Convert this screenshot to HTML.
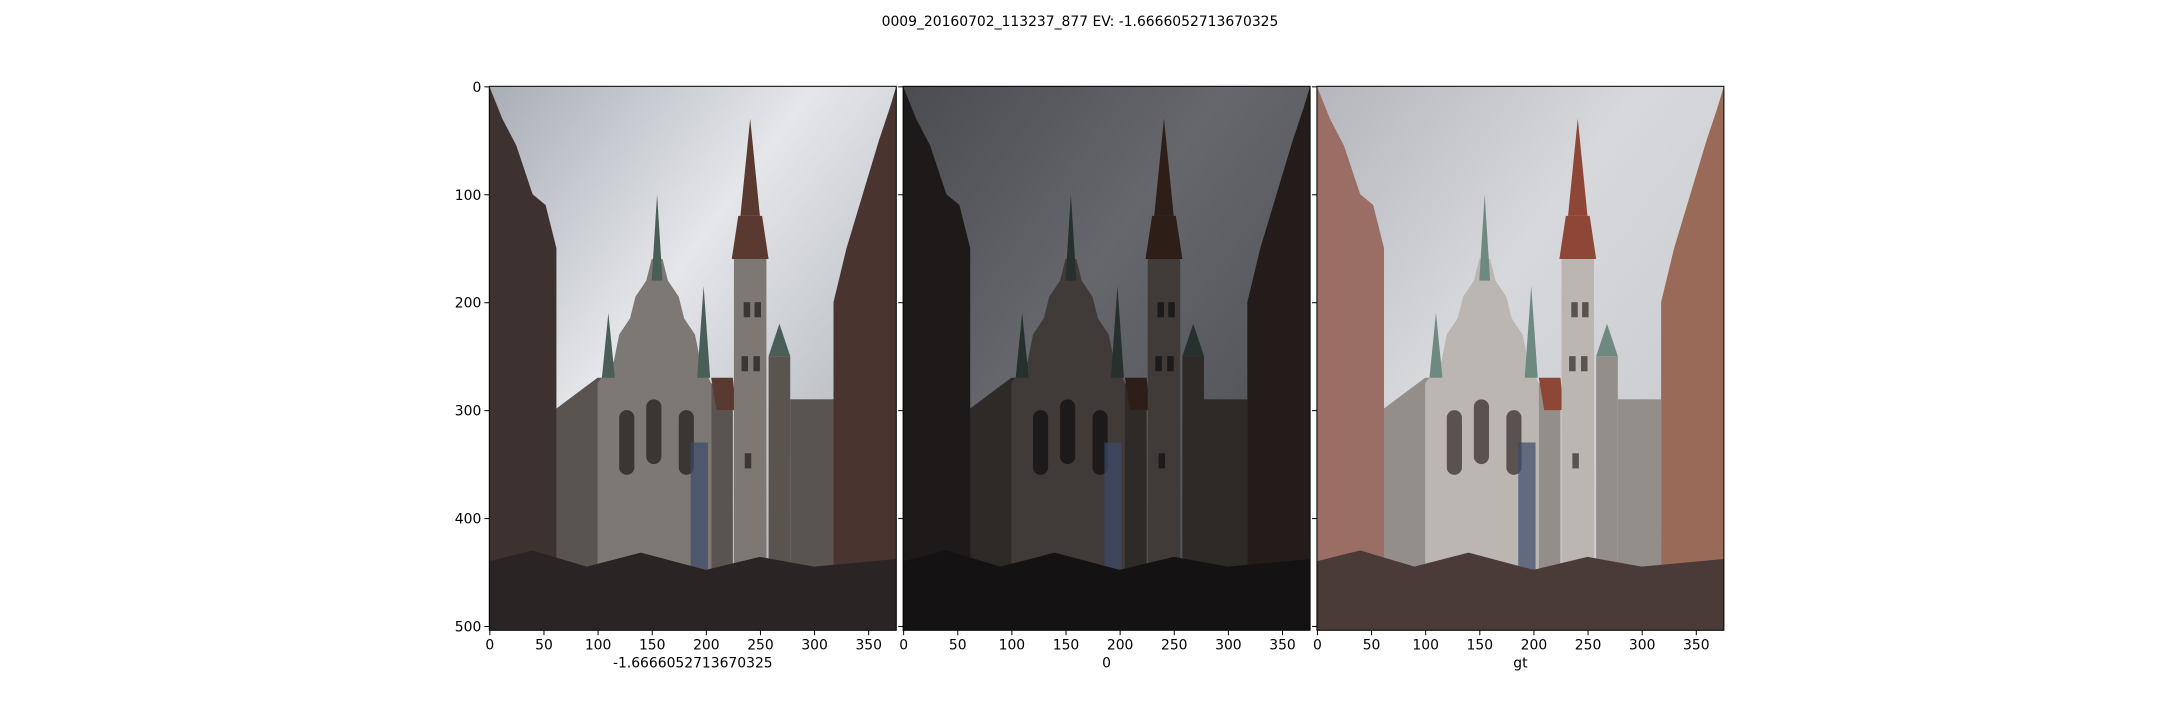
<!DOCTYPE html>
<html><head><meta charset="utf-8">
<style>
html,body{margin:0;padding:0;background:#fff;}
body{width:2160px;height:720px;overflow:hidden;font-family:"Liberation Sans","DejaVu Sans",sans-serif;}
svg text{font-family:"DejaVu Sans","Liberation Sans",sans-serif;font-size:13.9px;fill:#000;}
</style></head>
<body>
<svg id="fig" width="2160" height="720" viewBox="0 0 2160 720" xmlns="http://www.w3.org/2000/svg">
<text x="1080" y="26" text-anchor="middle">0009_20160702_113237_877 EV: -1.6666052713670325</text>
</svg>
<script>
const panelLabels = ["-1.6666052713670325", "0", "gt"];
const xTicks = [0, 50, 100, 150, 200, 250, 300, 350];
const yTicks = [0, 100, 200, 300, 400, 500];
const imgW = 376, imgH = 504;
const palettes = [
 {skyTop:"#a9adb5",skyMid:"#e4e6ea",skyBot:"#9da1a8",bld:"#7e7874",bldD:"#5a5450",leftB:"#3e3230",rightB:"#4a3430",crowd:"#2a2424",spire:"#5a3a30",win:"#3a3634",green:"#4a5e58"},
 {skyTop:"#4a4c52",skyMid:"#65676c",skyBot:"#48494e",bld:"#403b38",bldD:"#2e2a28",leftB:"#1e1a1a",rightB:"#241c1a",crowd:"#141212",spire:"#2e1e18",win:"#1c1a1a",green:"#26302c"},
 {skyTop:"#b4b6bc",skyMid:"#d6d8dc",skyBot:"#c4c6ca",bld:"#bcb6b2",bldD:"#948e8a",leftB:"#9a6e64",rightB:"#9a6a58",crowd:"#4a3a38",spire:"#8e4636",win:"#5a5250",green:"#6e8a80"}
];
const NS="http://www.w3.org/2000/svg";
const fig=document.getElementById('fig');
const L0=489.3, T0=86.3, PW=407, PH=544, STRIDE=413.8;
function mk(tag,attrs,parent){const e=document.createElementNS(NS,tag);for(const k in attrs)e.setAttribute(k,attrs[k]);parent.appendChild(e);return e;}
function poly(g,pts,fill){return mk('polygon',{points:pts.map(p=>p.join(',')).join(' '),fill:fill},g);}
panelLabels.forEach((lab,i)=>{
  const x0=L0+i*STRIDE, pal=palettes[i];
  const sx=v=>x0+(v+0.5)*PW/imgW, sy=v=>T0+(v+0.5)*PH/imgH;
  const g=mk('g',{},fig);
  
  
  const defs=mk('defs',{},g);
  const lg=mk('linearGradient',{id:'sky'+i,x1:'0',y1:'0',x2:'1',y2:'1'},defs);
  mk('stop',{offset:'0',"stop-color":pal.skyTop},lg);
  mk('stop',{offset:'0.4',"stop-color":pal.skyMid},lg);
  mk('stop',{offset:'1',"stop-color":pal.skyBot},lg);
  const s=mk('g',{transform:`translate(${x0},${T0}) scale(${PW/imgW},${PH/imgH})`},g);
  mk('rect',{x:0,y:0,width:imgW,height:imgH,fill:`url(#sky${i})`},s);
  // side hall
  poly(s,[[60,300],[100,270],[120,270],[120,504],[60,504]],pal.bldD);
  // main hall with stepped gable
  poly(s,[[100,275],[115,255],[120,230],[130,215],[135,195],[145,180],[150,160],[160,160],[165,180],[175,195],[180,215],[190,230],[195,255],[205,275],[205,504],[100,504]],pal.bld);
  // side spires
  poly(s,[[104,270],[110,210],[116,270]],pal.green);
  poly(s,[[192,270],[198,185],[204,270]],pal.green);
  poly(s,[[150,180],[155,100],[160,180]],pal.green);
  // right roof + wing
  poly(s,[[205,275],[225,285],[225,504],[205,504]],pal.bldD);
  poly(s,[[205,270],[225,270],[228,300],[210,300]],pal.spire);
  // tower
  mk('rect',{x:226,y:150,width:30,height:354,fill:pal.bld},s);
  poly(s,[[224,160],[230,120],[252,120],[258,160]],pal.spire);
  poly(s,[[232,120],[241,30],[250,120]],pal.spire);
  mk('rect',{x:231,y:60+60,width:20,height:0,fill:pal.win},s);
  // far right tower & church
  mk('rect',{x:258,y:250,width:20,height:254,fill:pal.bldD},s);
  poly(s,[[258,250],[268,220],[278,250]],pal.green);
  mk('rect',{x:278,y:290,width:40,height:214,fill:pal.bldD},s);
  // windows
  [[120,300],[145,290],[175,300]].forEach(w=>mk('rect',{x:w[0],y:w[1],width:14,height:60,rx:7,fill:pal.win},s));
  [[235,200],[245,200],[233,250],[244,250],[236,340]].forEach(w=>mk('rect',{x:w[0],y:w[1],width:6,height:14,fill:pal.win},s));
  // sign
  mk('rect',{x:186,y:330,width:16,height:130,fill:'#3a4a6a',opacity:0.7},s);
  // left building
  poly(s,[[0,0],[12,30],[25,55],[40,100],[52,110],[62,150],[62,504],[0,504]],pal.leftB);
  // right building
  poly(s,[[376,0],[376,504],[318,504],[318,200],[330,150],[345,100],[360,50],[370,20]],pal.rightB);
  // crowd
  poly(s,[[0,440],[40,430],[90,445],[140,432],[200,448],[250,436],[300,445],[376,438],[376,504],[0,504]],pal.crowd);
  // frame
  const fr=mk('rect',{x:x0,y:T0,width:PW,height:PH,fill:'none',stroke:'#000','stroke-width':1},fig);
  
  
  // x ticks
  xTicks.forEach(t=>{
    const X=sx(t);
    mk('line',{x1:X,y1:T0+PH,x2:X,y2:T0+PH+4.9,stroke:'#000','stroke-width':1},fig);
    const tx=mk('text',{x:X,y:T0+PH+19,'text-anchor':'middle'},fig);
    tx.textContent=t;
    
    
  });
  yTicks.forEach(t=>{
    const Y=sy(t);
    mk('line',{x1:x0,y1:Y,x2:x0-4.9,y2:Y,stroke:'#000','stroke-width':1},fig);
    if(i===0){
      const ty=mk('text',{x:x0-8,y:Y+5,'text-anchor':'end'},fig);
      ty.textContent=t;
      
      
    }
  });
  const xl=mk('text',{x:x0+PW/2,y:T0+PH+37,'text-anchor':'middle'},fig);
  xl.textContent=lab;
  
  
});
</script>
</body></html>
